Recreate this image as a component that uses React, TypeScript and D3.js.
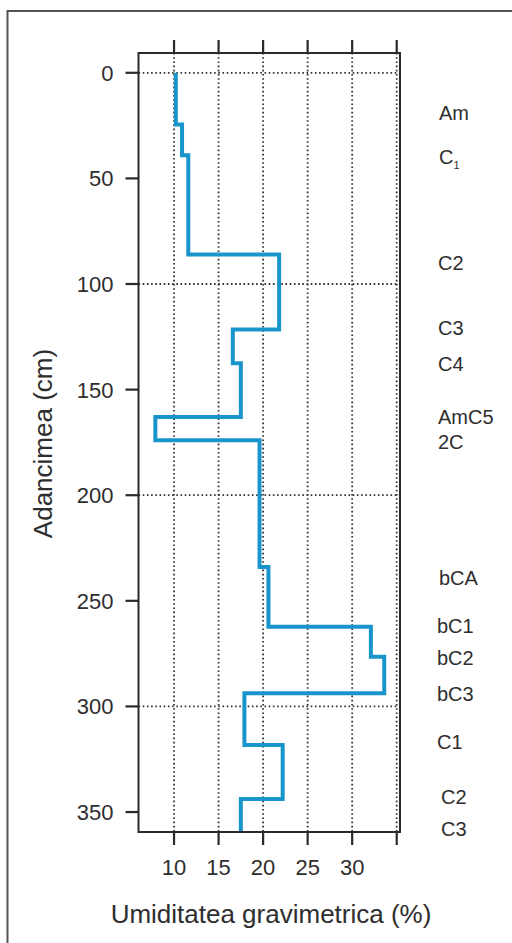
import React from "react";
import * as d3 from "d3";

// Layer tops (cm) and gravimetric moisture (%) for each layer
const layerTops = [0, 24.5, 39, 86, 121.5, 137.5, 163, 174, 234, 262.3, 276.5, 293.8, 318.3, 343.8];
const profileBottom = 360;
const moisture = [10.2, 10.9, 11.6, 21.8, 16.6, 17.5, 7.9, 19.6, 20.6, 32.1, 33.6, 17.9, 22.2, 17.5];

// Horizon labels and the depth (cm) where each is written
const horizonNames = ["Am", "C", "C2", "C3", "C4", "AmC5", "2C", "bCA", "bC1", "bC2", "bC3", "C1", "C2", "C3"];
const horizonSubs = ["", "1", "", "", "", "", "", "", "", "", "", "", "", ""];
const horizonDepths = [19, 40, 90, 121, 138, 163, 175, 239, 262, 277, 294, 317, 343, 358];
const horizonOffsets = [1, 1, 0, 0, 0, 0, 0, 1, -1, -1, -1, -1, 3, 3];

const xTicks = [10, 15, 20, 25, 30, 35];
const xTickLabels = ["10", "15", "20", "25", "30", ""];
const yTicks = [0, 50, 100, 150, 200, 250, 300, 350];
const yGrid = [0, 100, 200, 300];

const W = 512;
const H = 943;
const left = 138.5, right = 400, top = 53, bottom = 832;
const FONT = "'Liberation Sans', Arial, Helvetica, sans-serif";
const TXT = "#2e2e2e";
const AX = "#2a2a2a";
const BLUE = "#1a95cc";

export default function App() {
  const x = d3.scaleLinear().domain([6.01, 35.37]).range([left, right]);
  const y = d3.scaleLinear().domain([-9.37, 359.45]).range([top, bottom]);

  const pts: [number, number][] = [];
  moisture.forEach((v, i) => {
    const t = layerTops[i];
    const b = i + 1 < layerTops.length ? layerTops[i + 1] : profileBottom;
    pts.push([v, t], [v, b]);
  });
  const line = d3
    .line<[number, number]>()
    .x((d) => x(d[0]))
    .y((d) => y(Math.min(d[1], 359.45)));

  const tickLen = 13;

  return (
    <svg
      width={W}
      height={H}
      style={{ position: "absolute", left: 0, top: 0, display: "block", background: "#fff" }}
      fontFamily={FONT}
    >
      <rect x={7.5} y={11} width={700} height={1000} fill="none" stroke="#555" strokeWidth={2} />

      {/* grid */}
      {xTicks.map((t) => (
        <line key={"gx" + t} x1={x(t)} x2={x(t)} y1={top} y2={bottom} stroke="#333" strokeWidth={1.8} strokeDasharray="1.6,2.6" />
      ))}
      {yGrid.map((t) => (
        <line key={"gy" + t} x1={left} x2={right} y1={y(t)} y2={y(t)} stroke="#333" strokeWidth={1.8} strokeDasharray="1.6,2.6" />
      ))}

      {/* profile */}
      <path d={line(pts) || ""} fill="none" stroke={BLUE} strokeWidth={4} strokeLinejoin="miter" />

      {/* box */}
      <rect x={left} y={top} width={right - left} height={bottom - top} fill="none" stroke={AX} strokeWidth={2} />

      {/* x ticks top & bottom */}
      {xTicks.map((t, i) => (
        <g key={"xt" + t}>
          <line x1={x(t)} x2={x(t)} y1={top} y2={top - tickLen} stroke={AX} strokeWidth={2.2} />
          <line x1={x(t)} x2={x(t)} y1={bottom} y2={bottom + tickLen} stroke={AX} strokeWidth={2.2} />
          <text x={x(t)} y={875} textAnchor="middle" fontSize={22} fill={TXT}>
            {xTickLabels[i]}
          </text>
        </g>
      ))}

      {/* y ticks */}
      {yTicks.map((t) => (
        <g key={"yt" + t}>
          <line x1={left} x2={left - tickLen} y1={y(t)} y2={y(t)} stroke={AX} strokeWidth={2.2} />
          <text x={113.5} y={y(t) + 8} textAnchor="end" fontSize={22} fill={TXT}>
            {t}
          </text>
        </g>
      ))}

      {/* horizon labels */}
      {horizonNames.map((n, i) => (
        <text key={"h" + i} x={438 + horizonOffsets[i]} y={y(horizonDepths[i]) + 7} fontSize={20} fill={TXT}>
          {n}
          {horizonSubs[i] ? (
            <tspan fontSize={11} dy={5}>
              {horizonSubs[i]}
            </tspan>
          ) : null}
        </text>
      ))}

      {/* axis titles */}
      <text x={271} y={923} textAnchor="middle" fontSize={26} fill={TXT}>
        Umiditatea gravimetrica (%)
      </text>
      <text
        transform={`translate(52, ${(top + bottom) / 2 + 1}) rotate(-90)`}
        textAnchor="middle"
        fontSize={26}
        fill={TXT}
      >
        Adancimea (cm)
      </text>
    </svg>
  );
}
